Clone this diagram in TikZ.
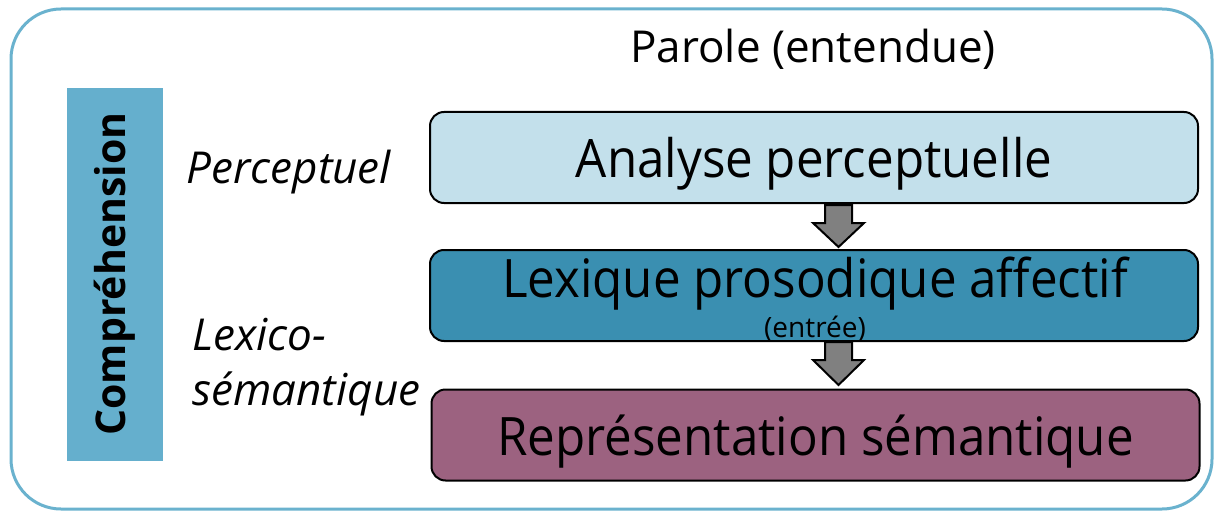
\documentclass[tikz,border=0pt]{standalone}
\usepackage{fontspec}
\setmainfont{Open Sans}
\newfontfamily\boxfont[FakeStretch=0.93]{Open Sans}
\usetikzlibrary{calc}
\definecolor{frameblue}{HTML}{6AB2CE}
\definecolor{barblue}{HTML}{65AFCD}
\definecolor{lightbox}{HTML}{C3E0EB}
\definecolor{midbox}{HTML}{3A8FB1}
\definecolor{mauvebox}{HTML}{9C6280}
\definecolor{arrowgray}{HTML}{808080}
\begin{document}
\begin{tikzpicture}[x=1pt,y=-1pt,
  stage/.style={draw=black,line width=2pt,rounded corners=14pt,minimum width=768pt,minimum height=91pt,inner sep=0pt},
  boxtext/.style={font=\boxfont\fontsize{53}{58}\selectfont},
  blockarrow/.style={draw=black,line width=2pt,fill=arrowgray,line join=miter},
  side/.style={font=\fontsize{44}{55}\selectfont\itshape,anchor=base west,align=left}]
\useasboundingbox (0,0) rectangle (1217,513);
\draw[frameblue,line width=3pt,rounded corners=50pt] (11,9) rectangle (1212,509);
\fill[barblue] (67,88) rectangle (163,461);
\node[rotate=90,font=\fontsize{41}{46}\selectfont\bfseries] (comp) at (115,274) {Compréhension};
\node[font=\fontsize{44}{50}\selectfont,anchor=base] (parole) at (813,63) {Parole (entendue)};
\node[stage,fill=lightbox] (b1) at (814,157.5) {};
\node[stage,fill=midbox] (b2) at (814,295.5) {};
\node[stage,fill=mauvebox] (b3) at (815.5,435) {};
\node[boxtext] (ana) at ($(b1.center)+(0,6)$) {Analyse perceptuelle};
\node[boxtext] (lex) at ($(b2.center)+(1,-12)$) {Lexique prosodique affectif};
\node[font=\fontsize{28}{30}\selectfont] (entree) at (815,329) {(entrée)};
\node[boxtext] (rep) at ($(b3.center)+(0,7)$) {Représentation sémantique};
% block arrows
\draw[blockarrow] (825,205) -- (852,205) -- (852,223) -- (864,223) -- (838.5,247) -- (813,223) -- (825,223) -- cycle;
\draw[blockarrow] (825,342) -- (852,342) -- (852,360) -- (864,360) -- (838.5,385) -- (813,360) -- (825,360) -- cycle;
\node[side] (perc) at (183,184) {Perceptuel};
\node[side] (lexsem) at (189,405) {Lexico-\\sémantique};
\end{tikzpicture}
\end{document}
